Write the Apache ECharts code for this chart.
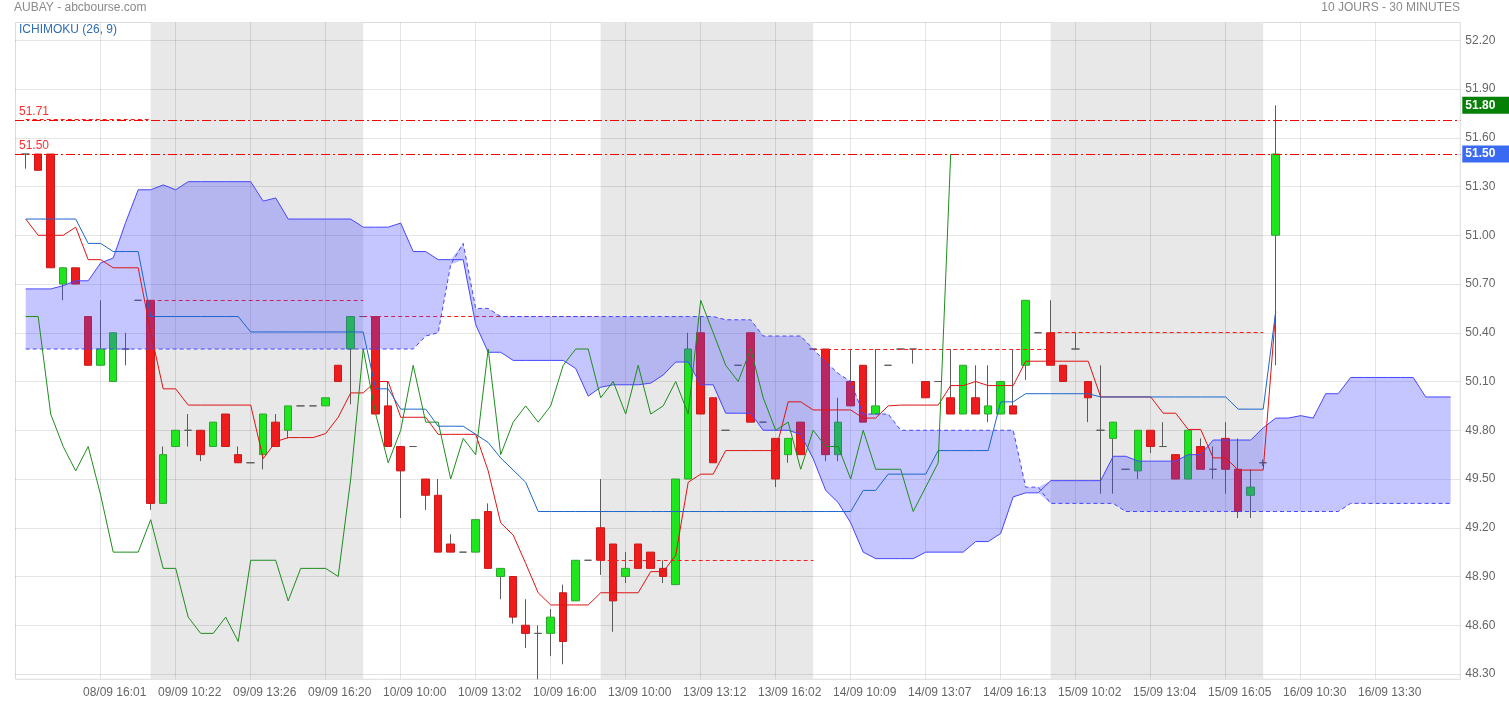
<!DOCTYPE html>
<html><head><meta charset="utf-8">
<script src="https://cdn.jsdelivr.net/npm/echarts@6/dist/echarts.min.js"></script>
<style>html,body{margin:0;padding:0;background:#fff}#c{width:1509px;height:703px}</style>
</head><body><div id="c"></div>
<script>
// ---------- DATA ----------
const opens = [51.50,51.50,51.50,50.70,50.80,50.50,50.20,50.10,50.30,50.60,
 50.60,49.35,49.70,49.80,49.80,49.70,49.90,49.65,49.60,49.65,
 49.85,49.80,49.95,49.95,49.95,50.20,50.30,50.50,50.50,49.95,
 49.70,49.70,49.50,49.40,49.10,49.05,49.05,49.30,48.90,48.90,
 48.60,48.55,48.55,48.80,48.75,49.00,49.20,49.10,48.90,49.10,
 49.05,48.95,48.85,49.50,50.40,50.00,49.80,50.20,50.40,49.85,
 49.75,49.65,49.85,50.30,50.30,49.65,50.10,50.20,49.90,50.20,
 50.30,50.30,50.10,50.10,50.00,49.90,50.00,49.90,49.90,49.95,
 50.20,50.40,50.40,50.20,50.30,50.10,49.80,49.75,49.56,49.55,
 49.80,49.70,49.65,49.50,49.70,49.56,49.75,49.56,49.40,49.60,
 51.00];
const closes = [51.50,51.40,50.80,50.80,50.70,50.20,50.30,50.40,50.30,50.60,
 49.35,49.65,49.80,49.80,49.65,49.85,49.70,49.60,49.60,49.90,
 49.70,49.95,49.95,49.95,50.00,50.10,50.50,50.50,49.90,49.70,
 49.55,49.70,49.40,49.05,49.05,49.05,49.25,48.95,48.95,48.65,
 48.55,48.55,48.65,48.50,49.00,49.00,49.00,48.75,48.95,48.95,
 48.95,48.90,49.50,50.30,49.90,49.60,49.80,50.20,49.85,49.85,
 49.50,49.75,49.65,50.30,49.65,49.85,49.95,49.85,49.95,50.20,
 50.30,50.30,50.00,50.10,49.90,50.20,49.90,49.95,50.10,49.90,
 50.60,50.40,50.20,50.10,50.30,50.00,49.80,49.85,49.56,49.80,
 49.70,49.70,49.50,49.80,49.56,49.56,49.56,49.30,49.45,49.60,
 51.50];
const lows = [51.41,51.40,50.80,50.60,50.70,50.20,50.20,50.10,50.20,50.60,
 49.31,49.35,49.70,49.70,49.61,49.70,49.70,49.60,49.60,49.56,
 49.70,49.75,49.95,49.95,49.95,50.10,49.96,50.50,49.90,49.70,
 49.26,49.70,49.31,49.05,49.05,49.05,49.05,48.95,48.76,48.61,
 48.46,48.10,48.41,48.36,48.75,49.00,48.91,48.56,48.86,48.95,
 48.95,48.86,48.85,49.50,49.90,49.60,49.80,50.20,49.85,49.85,
 49.45,49.60,49.65,50.30,49.61,49.61,49.95,49.85,49.90,50.20,
 50.30,50.21,50.00,50.10,49.90,49.90,49.90,49.85,49.90,49.90,
 50.11,50.40,50.20,50.10,50.30,49.85,49.41,49.41,49.56,49.50,
 49.66,49.70,49.50,49.50,49.56,49.50,49.41,49.26,49.26,49.58,
 50.20];
const highs = [51.50,51.50,51.50,50.80,50.80,50.50,50.60,50.40,50.40,50.60,
 50.60,49.70,49.80,49.90,49.80,49.85,49.90,49.70,49.60,49.90,
 49.90,49.95,49.95,49.95,50.00,50.20,50.50,50.50,50.50,50.10,
 49.70,49.70,49.50,49.50,49.16,49.05,49.25,49.35,48.95,48.90,
 48.76,48.60,48.70,48.85,49.00,49.00,49.50,49.10,49.05,49.10,
 49.05,49.00,49.50,50.40,50.50,50.00,49.80,50.20,50.40,49.85,
 49.75,49.75,49.85,50.30,50.30,50.00,50.30,50.20,50.30,50.20,
 50.30,50.30,50.10,50.10,50.30,50.20,50.20,50.20,50.10,50.30,
 50.60,50.40,50.60,50.20,50.40,50.10,50.20,49.85,49.56,49.80,
 49.80,49.85,49.65,49.80,49.75,49.70,49.85,49.75,49.56,49.62,
 51.80];
// Tenkan (red)
const tenkan = [51.10,51.00,51.00,51.00,51.05,50.85,50.85,50.80,50.80,50.80,
 50.405,50.055,50.055,49.955,49.955,49.955,49.955,49.955,49.955,49.625,
 49.73,49.755,49.755,49.755,49.78,49.88,50.03,50.03,50.10,50.10,
 49.88,49.88,49.88,49.775,49.775,49.775,49.775,49.55,49.23,49.155,
 48.98,48.80,48.725,48.725,48.725,48.725,48.80,48.80,48.80,48.80,
 48.93,48.93,49.03,49.48,49.53,49.53,49.675,49.675,49.675,49.675,
 49.675,49.975,49.975,49.925,49.925,49.925,49.925,49.875,49.875,49.95,
 49.955,49.955,49.955,49.955,50.075,50.075,50.10,50.075,50.075,50.075,
 50.225,50.225,50.225,50.225,50.225,50.225,50.005,50.005,50.005,50.005,
 50.005,49.905,49.905,49.805,49.805,49.63,49.63,49.555,49.555,49.555,
 50.53];
// Kijun (blue)
const kijun = [51.10,51.10,51.10,51.10,51.10,50.95,50.95,50.90,50.90,50.90,
 50.50,50.50,50.50,50.50,50.50,50.50,50.50,50.50,50.405,50.405,
 50.405,50.405,50.405,50.405,50.405,50.405,50.405,50.405,50.055,50.055,
 49.93,49.93,49.93,49.825,49.825,49.825,49.775,49.725,49.63,49.555,
 49.48,49.30,49.30,49.30,49.30,49.30,49.30,49.30,49.30,49.30,
 49.30,49.30,49.30,49.30,49.30,49.30,49.30,49.30,49.30,49.30,
 49.30,49.30,49.30,49.30,49.30,49.30,49.30,49.43,49.43,49.53,
 49.53,49.53,49.53,49.675,49.675,49.675,49.675,49.675,49.975,49.975,
 50.025,50.025,50.025,50.025,50.025,50.025,50.005,50.005,50.005,50.005,
 50.005,50.005,50.005,50.005,50.005,50.005,50.005,49.93,49.93,49.93,
 50.53];
// Chikou (green)
const chikou = [50.50,50.50,49.90,49.70,49.55,49.70,49.40,49.05,49.05,49.05,
 49.25,48.95,48.95,48.65,48.55,48.55,48.65,48.50,49.00,49.00,
 49.00,48.75,48.95,48.95,48.95,48.90,49.50,50.30,49.90,49.60,
 49.80,50.20,49.85,49.85,49.50,49.75,49.65,50.30,49.65,49.85,
 49.95,49.85,49.95,50.20,50.30,50.30,50.00,50.10,49.90,50.20,
 49.90,49.95,50.10,49.90,50.60,50.40,50.20,50.10,50.30,50.00,
 49.80,49.85,49.56,49.80,49.70,49.70,49.50,49.80,49.56,49.56,
 49.56,49.30,49.45,49.60,51.50];
// Senkou span A (solid cloud edge)
const senkouA = [50.67,50.67,50.67,50.69,50.72,50.72,50.83,50.86,51.08,51.28,
 51.28,51.31,51.28,51.33,51.33,51.33,51.33,51.33,51.33,51.21,
 51.23,51.10,51.10,51.10,51.10,51.10,51.10,51.05,51.05,51.05,
 51.075,50.90,50.90,50.85,50.85,50.85,50.45,50.28,50.28,50.23,
 50.23,50.23,50.23,50.23,50.18,50.01,50.065,50.08,50.08,50.08,
 50.09,50.14,50.22,50.22,50.08,50.08,49.905,49.905,49.905,49.80,
 49.80,49.80,49.775,49.625,49.43,49.355,49.23,49.05,49.01,49.01,
 49.01,49.01,49.05,49.05,49.05,49.05,49.115,49.115,49.165,49.39,
 49.415,49.415,49.49,49.49,49.49,49.49,49.49,49.64,49.64,49.61,
 49.61,49.61,49.61,49.65,49.65,49.74,49.74,49.74,49.74,49.815,
 49.875,49.875,49.89,49.875,50.025,50.025,50.125,50.125,50.125,50.125,
 50.125,50.125,50.005,50.005,50.005];
// Senkou span B (dashed cloud edge)
const senkouB = [50.30,50.30,50.30,50.30,50.30,50.30,50.30,50.30,50.30,50.30,
 50.30,50.30,50.30,50.30,50.30,50.30,50.30,50.30,50.30,50.30,
 50.30,50.30,50.30,50.30,50.30,50.30,50.30,50.30,50.30,50.30,
 50.30,50.30,50.38,50.40,50.82,50.95,50.55,50.55,50.50,50.50,
 50.50,50.50,50.50,50.50,50.50,50.50,50.50,50.50,50.50,50.50,
 50.50,50.50,50.50,50.50,50.50,50.50,50.48,50.48,50.48,50.38,
 50.38,50.38,50.38,50.30,50.22,50.15,50.10,49.90,49.90,49.90,
 49.80,49.80,49.80,49.80,49.80,49.80,49.80,49.80,49.80,49.80,
 49.45,49.45,49.35,49.35,49.35,49.35,49.35,49.35,49.30,49.30,
 49.30,49.30,49.30,49.30,49.30,49.30,49.30,49.30,49.30,49.30,
 49.30,49.30,49.30,49.30,49.30,49.30,49.35,49.35,49.35,49.35,
 49.35,49.35,49.35,49.35,49.35];
// x tick labels
const tickIndex = [6,12,18,24,30,36,42,48,54,60,66,72,78,84,90,96,102,108];
const tickLabels = ['08/09 16:01','09/09 10:22','09/09 13:26','09/09 16:20','10/09 10:00','10/09 13:02',
 '10/09 16:00','13/09 10:00','13/09 13:12','13/09 16:02','14/09 10:09','14/09 13:07',
 '14/09 16:13','15/09 10:02','15/09 13:04','15/09 16:05','16/09 10:30','16/09 13:30'];
// shaded sessions (bar index from / to)
const bandFrom = [10, 46, 82];
const bandTo = [27, 63, 99];
// previous close dashed levels per session
const prevFrom = [0, 10, 27, 46, 63, 82];
const prevTo = [10, 27, 46, 63, 82, 99];
const prevValue = [51.71, 50.60, 50.50, 49.00, 50.30, 50.40];
// reference lines and badges
const refLevels = [51.71, 51.50];
const badgeValues = [51.80, 51.50];
const badgeColors = ['#058005', '#3a6af2'];

// ---------- CHART ----------
const Y_MIN = 48.2674, Y_MAX = 52.3108;
const NCAT = senkouA.length;
const cats = Array.from({length: NCAT}, (_, i) => String(i));
const tickMap = {};
tickIndex.forEach((t, k) => { tickMap[t] = tickLabels[k]; });

// wicks are clamped to the visible plot (the reference clips them at the frame)
const wickData = opens.map((o, i) => [o, closes[i], Math.max(lows[i], Y_MIN), Math.min(highs[i], Y_MAX)]);
const bodyData = opens.map((o, i) => [o, closes[i], Math.min(o, closes[i]), Math.max(o, closes[i])]);
const cloudLow = senkouA.map((a, i) => Math.min(a, senkouB[i]));
const cloudDiff = senkouA.map((a, i) => Math.abs(a - senkouB[i]));
const FONT = 'Liberation Sans, Arial, sans-serif';

const chart = echarts.init(document.getElementById('c'));
chart.setOption({
  animation: false,
  textStyle: {fontFamily: FONT},
  grid: [
    {left: 15, right: 48.7, top: 40.3, bottom: 29, outerBoundsMode: 'none', containLabel: false},
    {left: 19.45, right: 52.05, top: 22.3, bottom: 23.7, outerBoundsMode: 'none', containLabel: false}
  ],
  xAxis: [
    {gridIndex: 0, type: 'value', min: 0, max: 1, show: false},
    {gridIndex: 1, type: 'category', data: cats, boundaryGap: true,
     axisLine: {show: false}, axisTick: {show: false}, splitLine: {show: false},
     axisLabel: {interval: (i) => tickMap[i] !== undefined, formatter: (v, i) => tickMap[i] || '',
       color: '#666', fontSize: 12, margin: 7, padding: [0, 0, 0, 28], fontFamily: FONT}}
  ],
  yAxis: [
    {gridIndex: 0, type: 'value', position: 'right', min: 48.3, max: 52.2, interval: 0.3,
     axisLine: {show: false}, axisTick: {show: false},
     splitLine: {lineStyle: {color: 'rgba(0,0,0,0.1)', width: 1}},
     axisLabel: {color: '#666', fontSize: 12, margin: 5, padding: [0, 0, 5, 0], fontFamily: FONT,
       formatter: (v) => v.toFixed(2)}},
    {gridIndex: 1, type: 'value', min: Y_MIN, max: Y_MAX, show: false, splitLine: {show: false}}
  ],
  graphic: [
    {type: 'rect', silent: true, z: -10, shape: {x: 15.5, y: 22.5, width: 1444.8, height: 656.8},
     style: {fill: 'none', stroke: '#dcdcdc', lineWidth: 1}},
    {type: 'text', silent: true, style: {x: 14, y: 8, text: 'AUBAY - abcbourse.com', fill: '#8a8a8a',
      font: '12px ' + FONT, verticalAlign: 'middle', align: 'left'}},
    {type: 'text', silent: true, style: {x: 1460, y: 8, text: '10 JOURS - 30 MINUTES', fill: '#8a8a8a',
      font: '12px ' + FONT, verticalAlign: 'middle', align: 'right'}},
    {type: 'text', silent: true, style: {x: 19, y: 30, text: 'ICHIMOKU (26, 9)', fill: '#2f6db5',
      font: '12px ' + FONT, verticalAlign: 'middle', align: 'left'}}
  ],
  series: [
    { // session shading
      type: 'custom', xAxisIndex: 1, yAxisIndex: 1, z: -3, silent: true,
      data: bandFrom.map((f, k) => [f, bandTo[k], Y_MIN]),
      encode: {x: [0, 1], y: 2},
      renderItem: (params, api) => {
        const a = api.coord([api.value(0), Y_MAX]);
        const b = api.coord([api.value(1), Y_MIN]);
        return {type: 'rect', shape: {x: a[0], y: a[1], width: b[0] - a[0], height: b[1] - a[1]},
          style: {fill: '#e8e8e8'}};
      }
    },
    { // vertical grid lines
      type: 'custom', xAxisIndex: 1, yAxisIndex: 1, z: -2, silent: true,
      data: tickIndex.map((t) => [t, Y_MIN]),
      encode: {x: 0, y: 1},
      renderItem: (params, api) => {
        const a = api.coord([api.value(0), Y_MAX]);
        const b = api.coord([api.value(0), Y_MIN]);
        const x = Math.floor(a[0]) + 0.5;
        return {type: 'line', shape: {x1: x, y1: a[1], x2: x, y2: b[1]},
          style: {stroke: 'rgba(0,0,0,0.1)', lineWidth: 1}};
      }
    },
    { // wicks
      type: 'candlestick', xAxisIndex: 1, yAxisIndex: 1, z: 2, silent: true, barWidth: 0.01, clip: true,
      data: wickData,
      itemStyle: {color: '#5c5c5c', color0: '#5c5c5c', borderColor: '#5c5c5c', borderColor0: '#5c5c5c',
        borderColorDoji: '#5c5c5c', borderWidth: 1}
    },
    { // bodies
      type: 'candlestick', xAxisIndex: 1, yAxisIndex: 1, z: 2, silent: true, barWidth: 8, clip: true,
      data: bodyData,
      itemStyle: {color: '#1ee61e', color0: '#ee1c1c', borderColor: '#2ea52e', borderColor0: '#cc1a1a',
        borderColorDoji: '#5c5c5c', borderWidth: 1}
    },
    { // previous close dashed segments
      type: 'custom', xAxisIndex: 1, yAxisIndex: 1, z: 3, silent: true,
      data: prevFrom.map((f, k) => [f, prevTo[k], prevValue[k]]),
      encode: {x: [0, 1], y: 2},
      renderItem: (params, api) => {
        const a = api.coord([api.value(0), api.value(2)]);
        const b = api.coord([api.value(1), api.value(2)]);
        const y = Math.floor(a[1]) + 0.5;
        return {type: 'line', shape: {x1: a[0], y1: y, x2: b[0], y2: y},
          style: {stroke: '#ff1a1a', lineWidth: 1, lineDash: [4, 3]}};
      }
    },
    { // cloud base (invisible)
      type: 'line', xAxisIndex: 1, yAxisIndex: 1, z: 4, silent: true, stack: 'cloud',
      data: cloudLow, symbol: 'none', showSymbol: false, lineStyle: {width: 0, opacity: 0}
    },
    { // cloud fill
      type: 'line', xAxisIndex: 1, yAxisIndex: 1, z: 4, silent: true, stack: 'cloud',
      data: cloudDiff, symbol: 'none', showSymbol: false, lineStyle: {width: 0, opacity: 0},
      areaStyle: {color: 'rgba(64,64,255,0.3)', opacity: 1}
    },
    { type: 'line', name: 'SSA', xAxisIndex: 1, yAxisIndex: 1, z: 5, silent: true, data: senkouA,
      symbol: 'none', showSymbol: false, lineStyle: {width: 1, color: '#4646ff'} },
    { type: 'line', name: 'SSB', xAxisIndex: 1, yAxisIndex: 1, z: 5, silent: true, data: senkouB,
      symbol: 'none', showSymbol: false, lineStyle: {width: 1, color: '#4646ff', type: [4, 3]} },
    { type: 'line', name: 'Tenkan', xAxisIndex: 1, yAxisIndex: 1, z: 6, silent: true, data: tenkan,
      symbol: 'none', showSymbol: false, lineStyle: {width: 1, color: '#dd1414'} },
    { type: 'line', name: 'Kijun', xAxisIndex: 1, yAxisIndex: 1, z: 6, silent: true, data: kijun,
      symbol: 'none', showSymbol: false, lineStyle: {width: 1, color: '#1c66cc'} },
    { type: 'line', name: 'Chikou', xAxisIndex: 1, yAxisIndex: 1, z: 6, silent: true, data: chikou,
      symbol: 'none', showSymbol: false, lineStyle: {width: 1, color: '#1e8c1e'} },
    { // reference lines on the full-width grid
      type: 'line', xAxisIndex: 0, yAxisIndex: 0, z: 7, silent: true, data: [], symbol: 'none',
      markLine: {
        silent: true, symbol: ['none', 'none'], animation: false,
        data: refLevels.map((v) => ({
          yAxis: v,
          lineStyle: {color: '#ff0000', width: 1, type: [9, 3, 2, 3]},
          label: {show: true, position: 'insideStartTop', formatter: v.toFixed(2), color: '#ff3030',
            fontSize: 12, fontFamily: FONT, distance: [4, 2]}
        }))
      }
    },
    { // price badges at the right edge
      type: 'line', xAxisIndex: 0, yAxisIndex: 0, z: 8, silent: true, data: [], symbol: 'none',
      markLine: {
        silent: true, symbol: ['none', 'none'], animation: false,
        data: badgeValues.map((v, k) => ({
          yAxis: v,
          lineStyle: {color: 'rgba(255,255,255,0)', width: 1, opacity: 1},
          label: {show: true, position: 'end', formatter: v.toFixed(2), color: '#ffffff', fontWeight: 'bold',
            fontSize: 12, fontFamily: FONT, backgroundColor: badgeColors[k], padding: [3, 20, 2, 3],
            distance: 2, opacity: 1}
        }))
      }
    }
  ]
});
</script>
</body></html>
